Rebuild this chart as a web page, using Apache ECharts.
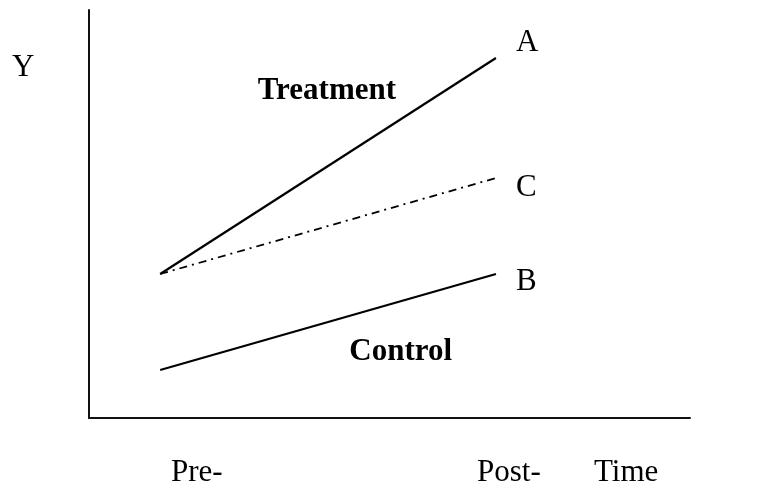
<!DOCTYPE html>
<html>
<head>
<meta charset="utf-8">
<style>html,body{margin:0;padding:0;background:#fff;}#c{width:782px;height:496px;}</style>
<script src="https://cdn.jsdelivr.net/npm/echarts@6/dist/echarts.min.js"></script>
</head>
<body>
<div id="c"></div>
<script>
// Time points (Pre-, Post-) on a conceptual x scale
var timeX = [1, 6];
var treatment = [6, 15];      // Pre -> A
var counterfactual = [6, 10]; // Pre -> C
var control = [2, 6];         // Pre -> B
var endLabels = ['A', 'C', 'B'];
var groupLabels = ['Treatment', 'Control'];
var groupLabelPos = [[3.49, 13.62], [4.59, 2.72]];
var tickLabels = ['Pre-', 'Post-', 'Time'];
var yName = 'Y';

var FONT = 'Liberation Serif';
var chart = echarts.init(document.getElementById('c'), null, {renderer: 'canvas'});

function pts(ys) { return timeX.map(function (x, i) { return [x, ys[i]]; }); }
function endLab(text, offset) {
  return {
    show: true, distance: 20, offset: offset,
    formatter: function () { return text; },
    fontFamily: FONT, fontSize: 31, color: '#000'
  };
}

var option = {
  animation: false,
  backgroundColor: '#fff',
  grid: {left: 89, top: 10, width: 601, height: 408, containLabel: false},
  xAxis: {
    type: 'value', min: -0.06, max: 8.89,
    axisLine: {show: true, onZero: false, lineStyle: {color: '#111', width: 2}},
    axisTick: {show: false}, axisLabel: {show: false}, splitLine: {show: false}
  },
  yAxis: {
    type: 'value', min: 0, max: 17,
    axisLine: {show: true, onZero: false, lineStyle: {color: '#111', width: 2}},
    axisTick: {show: false}, axisLabel: {show: false}, splitLine: {show: false}
  },
  series: [
    {
      type: 'line', data: pts(treatment), symbol: 'none',
      lineStyle: {color: '#000', width: 2.2}, endLabel: endLab(endLabels[0], [0, -15]), z: 3
    },
    {
      type: 'line', data: pts(counterfactual), symbol: 'none',
      lineStyle: {color: '#000', width: 1.8, type: [8, 5, 2, 5]}, endLabel: endLab(endLabels[1], [0, 10]), z: 2
    },
    {
      type: 'line', data: pts(control), symbol: 'none',
      lineStyle: {color: '#000', width: 2.2}, endLabel: endLab(endLabels[2], [0, 8]), z: 3
    },
    {
      type: 'scatter', symbolSize: 1, clip: false,
      itemStyle: {color: 'rgba(0,0,0,0)', opacity: 1},
      data: groupLabelPos.map(function (p, i) { return {value: p, name: groupLabels[i]}; }),
      label: {show: true, position: [0, 0], align: 'center', verticalAlign: 'middle', formatter: '{b}',
        fontFamily: FONT, fontSize: 31, fontWeight: 'bold', color: '#000', opacity: 1, textBorderWidth: 0},
      emphasis: {disabled: true},
      silent: true
    }
  ],
  graphic: [
    {type: 'text', left: 171, top: 457, style: {text: tickLabels[0], font: '31px "Liberation Serif"', fill: '#000'}},
    {type: 'text', left: 477, top: 457, style: {text: tickLabels[1], font: '31px "Liberation Serif"', fill: '#000'}},
    {type: 'text', left: 594, top: 457, style: {text: tickLabels[2], font: '31px "Liberation Serif"', fill: '#000'}},
    {type: 'text', left: 12, top: 52, style: {text: yName, font: '31px "Liberation Serif"', fill: '#000'}}
  ]
};
chart.setOption(option);
</script>
</body>
</html>
